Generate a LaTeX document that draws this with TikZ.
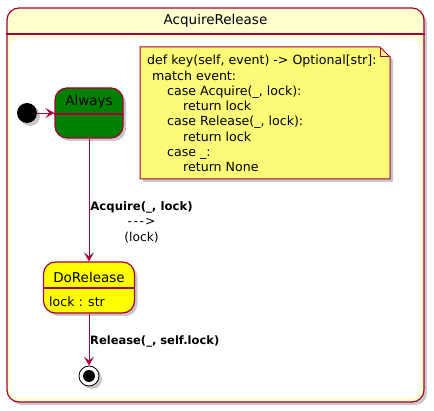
\documentclass[tikz,border=0pt]{standalone}
\usepackage{fontspec}
\setmainfont{DejaVu Sans}
\usetikzlibrary{shadows,arrows.meta}
\definecolor{pborder}{HTML}{A80036}
\definecolor{titlefill}{HTML}{FEFECE}
\definecolor{greenfill}{HTML}{008000}
\definecolor{yellowfill}{HTML}{FFFF00}
\definecolor{notefill}{HTML}{FBFB77}
\begin{document}
\begin{tikzpicture}[x=1pt,y=-1pt,
  shad/.style={drop shadow={shadow xshift=3pt,shadow yshift=-3pt,opacity=0.3,fill=black!70}},
  frame/.style={draw=pborder,line width=1.2pt,rounded corners=12pt,fill=titlefill,minimum width=417pt,minimum height=394pt,inner sep=0pt,shad},
  statebox/.style={draw=pborder,line width=1.2pt,rounded corners=12pt,inner sep=0pt,shad},
  divline/.style={draw=pborder,line width=1.2pt},
  conn/.style={draw=pborder,line width=0.9pt,-{Stealth[length=9pt,width=10pt,inset=4pt]}},
  nametext/.style={font=\fontsize{13.5}{16}\selectfont,inner sep=0pt},
  bodytext/.style={font=\fontsize{12.6}{15.3}\selectfont,inner sep=0pt},
  lbltext/.style={font=\fontsize{12.3}{15.5}\selectfont,inner sep=0pt,align=center}
]
\useasboundingbox (0,0) rectangle (434,411);
% composite state frame
\node[frame] (frame) at (215.5,205) {};
\node[nametext] (frametitle) at (215.5,21) {AcquireRelease};
\coordinate (fdiv) at (215.5,34);
\draw[divline] (frame.west |- fdiv) -- (frame.east |- fdiv);
\fill[white,rounded corners=10pt] (10,38) rectangle (420,398);
% note
\path[fill=notefill,draw=pborder,line width=1pt,shad] (140,47) -- (380,47) -- (390,57) -- (390,179) -- (140,179) -- cycle;
\draw[pborder,line width=1pt] (380,47) -- (380,57) -- (390,57);
\node[bodytext,anchor=north west,align=left] (notetext) at (147,55) {def key(self, event) -> Optional[str]:\\
\hspace*{5pt}match event:\\
\hspace*{20pt}case Acquire(\_, lock):\\
\hspace*{36pt}return lock\\
\hspace*{20pt}case Release(\_, lock):\\
\hspace*{36pt}return lock\\
\hspace*{20pt}case \_:\\
\hspace*{36pt}return None};
% initial state
\node[circle,fill=black,minimum size=20pt,inner sep=0pt,shad] (init) at (27,113) {};
% Always
\node[statebox,fill=greenfill,minimum width=68pt,minimum height=50pt] (always) at (89,113) {};
\node[nametext] (alwaystext) at (89,101.5) {Always};
\coordinate (adiv) at (89,114);
\draw[divline] (always.west |- adiv) -- (always.east |- adiv);
% DoRelease
\node[statebox,fill=yellowfill,minimum width=91pt,minimum height=51pt] (dorelease) at (89,287.5) {};
\node[nametext] (doreleasetext) at (89,277) {DoRelease};
\coordinate (ddiv) at (89,288);
\draw[divline] (dorelease.west |- ddiv) -- (dorelease.east |- ddiv);
\node[bodytext,anchor=west] (lockattr) at (49,302) {lock : str};
% final state
\node[circle,draw=black,line width=0.8pt,fill=white,minimum size=20pt,inner sep=0pt,shad] (final) at (89,376) {};
\node[circle,fill=black,minimum size=12pt,inner sep=0pt] (finalin) at (final.center) {};
% connectors
\draw[conn] (init) -- (always);
\draw[conn] (always) -- (dorelease);
\draw[conn] (dorelease) -- (final);
% labels
\node[lbltext] (acqlabel) at (141.5,222) {{\fontsize{11.7}{15.5}\selectfont\bfseries Acquire(\_, lock)}\\-\hspace{1.5pt}-\hspace{1.5pt}-\hspace{1pt}>\\(lock)};
\node[lbltext,anchor=west,font=\fontsize{11.5}{15.5}\selectfont\bfseries] (rellabel) at (90,341) {Release(\_, self.lock)};
\end{tikzpicture}
\end{document}
